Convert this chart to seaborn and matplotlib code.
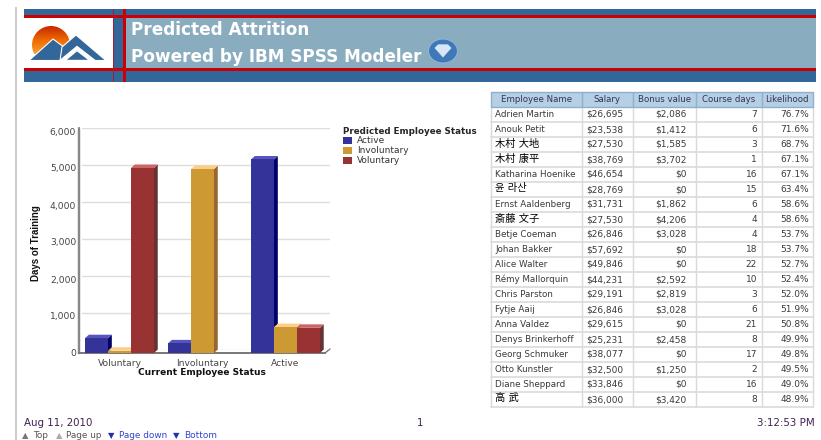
import numpy as np
import pandas as pd
import matplotlib
matplotlib.use("Agg")
import matplotlib.pyplot as plt
from matplotlib.patches import Rectangle, Polygon, Circle, Ellipse
import seaborn as sns

# ---- data ----
statuses = ["Voluntary", "Involuntary", "Active"]
predicted = ["Active", "Involuntary", "Voluntary"]
active_days = [400, 260, 5230]
involuntary_days = [60, 4970, 700]
voluntary_days = [5000, 0, 680]

table_headers = ["Employee Name", "Salary", "Bonus value", "Course days", "Likelihood"]
names = ["Adrien Martin", "Anouk Petit", "木村 大地", "木村 康平", "Katharina Hoenike", "윤 라산",
         "Ernst Aaldenberg", "斎藤 文子", "Betje Coeman", "Johan Bakker", "Alice Walter",
         "Rémy Mallorquin", "Chris Parston", "Fytje Aaij", "Anna Valdez", "Denys Brinkerhoff",
         "Georg Schmuker", "Otto Kunstler", "Diane Sheppard", "高 武"]
salaries = [26695, 23538, 27530, 38769, 46654, 28769, 31731, 27530, 26846, 57692,
            49846, 44231, 29191, 26846, 29615, 25231, 38077, 32500, 33846, 36000]
bonuses = [2086, 1412, 1585, 3702, 0, 0, 1862, 4206, 3028, 0,
           0, 2592, 2819, 3028, 0, 2458, 0, 1250, 0, 3420]
course_days = [7, 6, 3, 1, 16, 15, 6, 4, 4, 18, 22, 10, 3, 6, 21, 8, 17, 2, 16, 8]
likelihood = [76.7, 71.6, 68.7, 67.1, 67.1, 63.4, 58.6, 58.6, 53.7, 53.7,
              52.7, 52.4, 52.0, 51.9, 50.8, 49.9, 49.8, 49.5, 49.0, 48.9]

# ---- styles ----
W, H = 821, 440
FONT = ["DejaVu Sans", "Noto Sans CJK JP"]
front = {"Active": "#333399", "Involuntary": "#CC9933", "Voluntary": "#993333"}
side = ["#000066", "#996633", "#663333"]
top = ["#5555BB", "#FFCC88", "#CC6666"]

sns.set_theme(style="white")
plt.rcParams["font.family"] = FONT
fig = plt.figure(figsize=(W / 100, H / 100), dpi=100, facecolor="white")


def axes_px(l, t, r, b, **kw):
    return fig.add_axes([l / W, 1 - b / H, (r - l) / W, (b - t) / H], **kw)


# ---- page overlay in pixel coordinates ----
pg = axes_px(0, 0, W, H, zorder=0)
pg.set_xlim(0, W)
pg.set_ylim(H, 0)
pg.axis("off")


def rect(x0, y0, x1, y1, color, z=1, ec="none", lw=0):
    pg.add_patch(Rectangle((x0, y0), x1 - x0, y1 - y0, fc=color, ec=ec, lw=lw, zorder=z))


rect(15.2, 7, 17, 440, "#CCCCCC")
rect(24, 9, 816, 82, "#336699")
rect(24, 18, 113, 68, "white", 2)
rect(126, 18, 816, 68, "#8AACBF", 2)
rect(24, 15.3, 816, 18, "#CC0000", 3)
rect(24, 68.2, 816, 71, "#CC0000", 3)
rect(123, 9, 125.5, 82, "#CC0000", 3)
rect(112.8, 9, 113.8, 82, "#A02030", 3)

# logo
grad = np.linspace(0, 1, 64)[:, None]
sun_cmap = matplotlib.colors.LinearSegmentedColormap.from_list(
    "sun", ["#C82800", "#EE6A00", "#F7A030"])
im = pg.imshow(grad, extent=(31, 71, 54, 26), cmap=sun_cmap, aspect="auto", zorder=3)
im.set_clip_path(Circle((51, 45), 19, transform=pg.transData))
pg.add_patch(Polygon([[29, 60.5], [53, 39], [72, 53], [81, 60.5]], fc="#336699", ec="white", lw=0.8, zorder=4))
pg.add_patch(Polygon([[62, 47], [76, 35], [106, 60.5], [60, 60.5]], fc="#336699", ec="white", lw=0.8, zorder=5))
pg.add_patch(Polygon([[60, 60.5], [77, 46.5], [95, 60.5]], fc="white", zorder=6))
pg.add_patch(Polygon([[65, 60.5], [77, 50.5], [90, 60.5]], fc="#336699", zorder=7))
pg.set_xlim(0, W)
pg.set_ylim(H, 0)

# titles
pg.text(131, 30, "Predicted Attrition", color="white", fontsize=12.2, fontweight="bold", va="center", zorder=5)
pg.text(131, 57.5, "Powered by IBM SPSS Modeler", color="white", fontsize=12.2, fontweight="bold", va="center", zorder=5)
pg.add_patch(Ellipse((443, 51), 29, 24, fc="#3F78B8", ec="#8FB4D8", lw=0.8, zorder=5))
pg.add_patch(Polygon([[434, 48], [438, 44], [448, 44], [452, 48], [443, 58]], fc="#D6E6F5", ec="#3F78B8", lw=0.5, zorder=6))

# ---- table ----
col_x = [491, 581.5, 633, 696, 761.5, 813]
row_top = 92
head_h = 15
row_h = 15
n = len(names)
rect(col_x[0], row_top, col_x[-1], row_top + head_h, "#B5CFE3", 2)
for x in col_x:
    pg.plot([x, x], [row_top, row_top + head_h], color="#8FB0CC", lw=1, zorder=3)
    pg.plot([x, x], [row_top + head_h, row_top + head_h + n * row_h], color="#D9D9D9", lw=1, zorder=3)
for y in (row_top, row_top + head_h):
    pg.plot([col_x[0], col_x[-1]], [y, y], color="#8FB0CC", lw=1, zorder=3)
for i in range(1, n + 1):
    y = row_top + head_h + i * row_h
    pg.plot([col_x[0], col_x[-1]], [y, y], color="#DDDDDD", lw=1.3, zorder=3)
for j, h in enumerate(table_headers):
    pg.text((col_x[j] + col_x[j + 1]) / 2, row_top + head_h / 2, h, ha="center", va="center",
            fontsize=6.2, color="#333355", zorder=4)
TXT = "#3A3A3A"
for i in range(n):
    y = row_top + head_h + (i + 0.5) * row_h
    cjk = not names[i].isascii() and names[i] != "Rémy Mallorquin"
    pg.text(495, y - (1 if cjk else 0), names[i], ha="left", va="center", color="black" if cjk else TXT,
            fontsize=7.4 if cjk else 6.3, zorder=4)
    pg.text(586, y, f"${salaries[i]:,}", ha="left", va="center", color=TXT, fontsize=6.5, zorder=4)
    pg.text(687, y, f"${bonuses[i]:,}", ha="right", va="center", color=TXT, fontsize=6.5, zorder=4)
    pg.text(757, y, f"{course_days[i]}", ha="right", va="center", color=TXT, fontsize=6.5, zorder=4)
    pg.text(809, y, f"{likelihood[i]:.1f}%", ha="right", va="center", color=TXT, fontsize=6.5, zorder=4)

# ---- footer ----
pg.text(24, 423, "Aug 11, 2010", fontsize=7.4, color="#402050", va="center")
pg.text(420, 423, "1", fontsize=7.4, color="#402050", ha="center", va="center")
pg.text(757, 423, "3:12:53 PM", fontsize=7.4, color="#402050", va="center")
nav = [(22, "▲", 33, "Top", "#777777", "#555555"), (56, "▲", 66, "Page up", "#AAAAAA", "#555555"),
       (108, "▼", 119, "Page down", "#2233AA", "#3344CC"), (173, "▼", 184, "Bottom", "#2233AA", "#3344CC")]
for ix, g, tx, label, ic, tc in nav:
    pg.text(ix, 436, g, fontsize=6, color=ic, va="center")
    pg.text(tx, 436, label, fontsize=6.4, color=tc, va="center")

# ---- chart: gridlines on an offset back wall ----
x0, x1, y0, y1 = 79, 325, 353, 131
wall = axes_px(x0 + 3, y1 - 3, x1 + 5, y0 - 3, zorder=1)
wall.patch.set_alpha(0)
wall.set_ylim(0, 6000)
wall.set_xticks([])
wall.set_yticks(range(0, 7000, 1000))
wall.tick_params(left=False, labelleft=False)
wall.grid(axis="y", color="#DDDDDD", lw=1)
sns.despine(ax=wall, left=True, bottom=True)

# ---- chart: bars ----
df = pd.DataFrame({
    "Current Employee Status": statuses * 3,
    "Predicted Employee Status": np.repeat(predicted, 3),
    "Days of Training": active_days + involuntary_days + voluntary_days,
})
ax = axes_px(x0, y1, x1, y0, zorder=2)
ax.patch.set_alpha(0)
sns.barplot(data=df, x="Current Employee Status", y="Days of Training",
            hue="Predicted Employee Status", hue_order=predicted, order=statuses,
            palette=front, width=0.83, gap=0, saturation=1, errorbar=None, ax=ax, linewidth=0)
ax.set_xlim(-0.488, 2.476)
ax.set_ylim(0, 6000)
ax.set_yticks(range(0, 7000, 1000))
ax.yaxis.set_major_formatter(matplotlib.ticker.StrMethodFormatter("{x:,.0f}"))
ax.tick_params(axis="both", length=0, labelsize=6.6, labelcolor="#444444", pad=2)
ax.tick_params(axis="x", pad=4)
ax.set_xlabel("Current Employee Status", fontsize=6.5, fontweight="bold", color="#111111", labelpad=0.5)
ax.set_ylabel("Days of Training", fontsize=7, fontweight="bold", color="#111111", family="Liberation Sans")
ax.yaxis.set_label_coords((41 - x0) / (x1 - x0), (y0 - 243) / (y0 - y1))
sns.despine(ax=ax, right=True, top=True)
ax.spines["left"].set_color("#888888")
ax.spines["left"].set_linewidth(1.6)
ax.spines["bottom"].set_color("#777777")
ax.spines["bottom"].set_linewidth(1.4)

# 3D extrusion derived from each seaborn bar
ux = (ax.get_xlim()[1] - ax.get_xlim()[0]) / (x1 - x0)
uy = 6000 / (y0 - y1)
dx, dy = 3.8 * ux, 3.5 * uy
bars = sorted(((p, k) for k, cont in enumerate(ax.containers) for p in cont), key=lambda t: t[0].get_x())
for order, (p, k) in enumerate(bars):
    h = p.get_height()
    z = 3 + order * 0.1
    p.set_zorder(z + 0.05)
    if h <= 0:
        continue
    l, r = p.get_x(), p.get_x() + p.get_width()
    ax.add_patch(Polygon([[r, 0], [r + dx, dy], [r + dx, h + dy], [r, h]], fc=side[k], ec="none", zorder=z, clip_on=False))
    ax.add_patch(Polygon([[l, h], [l + dx, h + dy], [r + dx, h + dy], [r, h]], fc=top[k], ec="none", zorder=z, clip_on=False))

# floor corner and axis extension
pg.plot([x1, x1 + 5], [y0, y0 - 4], color="#777777", lw=1, zorder=2)
pg.plot([x0, x0], [y0, 128], color="#888888", lw=1.6, zorder=2)

leg = ax.legend(loc="upper left", bbox_to_anchor=((342.5 - x0) / (x1 - x0), 1.02), frameon=False,
                title="Predicted Employee Status", alignment="left", fontsize=6.5,
                title_fontproperties={"weight": "bold", "size": 6.3, "family": FONT},
                handlelength=1.0, handleheight=0.8, handletextpad=0.6, labelspacing=0.1,
                borderpad=0, borderaxespad=0)
for t in leg.get_texts():
    t.set_color("#333333")

fig.savefig("out.png", dpi=100)
